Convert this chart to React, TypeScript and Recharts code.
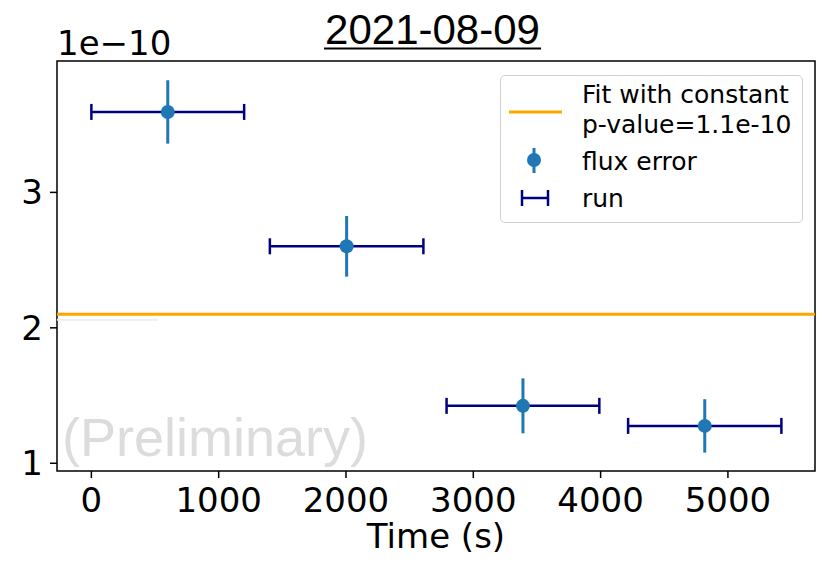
import { ScatterChart, Scatter, XAxis, YAxis, ErrorBar, ReferenceLine, ReferenceArea, Label } from "recharts";

// run mid-times (s) and half run length
const times = [600, 2005, 3390, 4818];
const runHalf = [600, 603, 600, 602];
// flux in units of 1e-10
const flux = [3.594, 2.602, 1.424, 1.276];
const fluxErr = [0.234, 0.224, 0.203, 0.197];
const fitConstant = 2.101;
const xTicks = [0, 1000, 2000, 3000, 4000, 5000];
const yTicks = [1, 2, 3];
const xDomain = [-270, 5684];
const yDomain = [0.943, 3.97];

const data = times.map((t, i) => ({ t, flux: flux[i], xerr: runHalf[i], yerr: fluxErr[i] }));

const BLUE = "#1f77b4";
const NAVY = "#000080";
const ORANGE = "#ffa500";
const SANS = "'DejaVu Sans', sans-serif";

const Dot = (props: any) => <circle cx={props.cx} cy={props.cy} r={7} fill={BLUE} />;

function LegendBox() {
  return (
    <div
      style={{
        position: "absolute",
        left: 500,
        top: 75,
        width: 303,
        height: 148,
        boxSizing: "border-box",
        border: "1.5px solid #d0d0d0",
        borderRadius: 5,
        background: "rgba(255,255,255,0.8)",
      }}
    >
      <svg width={303} height={148} style={{ position: "absolute", left: -1.5, top: -1.5 }}>
        <line x1={9} x2={62} y1={37} y2={37} stroke={ORANGE} strokeWidth={3} />
        <text x={82} y={28} fontSize={25} fontFamily={SANS} fill="#000">Fit with constant</text>
        <text x={82} y={58} fontSize={25} fontFamily={SANS} fill="#000">p-value=1.1e-10</text>
        <line x1={34} x2={34} y1={73} y2={98} stroke={BLUE} strokeWidth={3} />
        <circle cx={34} cy={85} r={7} fill={BLUE} />
        <text x={82} y={95} fontSize={25} fontFamily={SANS} fill="#000">flux error</text>
        <line x1={22} x2={48} y1={123} y2={123} stroke={NAVY} strokeWidth={2.5} />
        <line x1={22} x2={22} y1={115} y2={131} stroke={NAVY} strokeWidth={2.5} />
        <line x1={48} x2={48} y1={115} y2={131} stroke={NAVY} strokeWidth={2.5} />
        <text x={82} y={132} fontSize={25} fontFamily={SANS} fill="#000">run</text>
      </svg>
    </div>
  );
}

export default function App() {
  return (
    <div style={{ position: "absolute", left: 0, top: 0, width: 821, height: 561, background: "#fff" }}>
      <ScatterChart width={821} height={561} margin={{ top: 61, right: 6, bottom: 0, left: 7 }}>
        <XAxis
          type="number"
          dataKey="t"
          domain={xDomain}
          ticks={xTicks}
          allowDataOverflow
          axisLine={false}
          tickLine={{ stroke: "#000", strokeWidth: 1.5 }}
          tickSize={7}
          tickMargin={10}
          height={90}
          tick={{ fill: "#000", fontSize: 34, fontFamily: SANS }}
        >
          <Label value="Time (s)" position="insideBottom" offset={13} style={{ fill: "#000", fontSize: 34, fontFamily: SANS }} />
        </XAxis>
        <YAxis
          type="number"
          dataKey="flux"
          domain={yDomain}
          ticks={yTicks}
          allowDataOverflow
          axisLine={false}
          tickLine={{ stroke: "#000", strokeWidth: 1.5 }}
          tickSize={7}
          tickMargin={7}
          width={50}
          tick={{ fill: "#000", fontSize: 34, fontFamily: SANS }}
        />
        <ReferenceLine
          segment={[{ x: -270, y: 2.059 }, { x: 521, y: 2.059 }]}
          stroke="#eeeeee"
          strokeWidth={2}
        />
        <ReferenceLine y={fitConstant} stroke={ORANGE} strokeWidth={3} />
        <Scatter data={data} shape={Dot} isAnimationActive={false}>
          <ErrorBar dataKey="xerr" direction="x" width={8} stroke={NAVY} strokeWidth={2.5} />
          <ErrorBar dataKey="yerr" direction="y" width={0} stroke={BLUE} strokeWidth={3} />
        </Scatter>
        <ReferenceArea
          x1={xDomain[0]}
          x2={xDomain[1]}
          y1={yDomain[0]}
          y2={yDomain[1]}
          fill="none"
          stroke="#000"
          strokeWidth={1.5}
        />
      </ScatterChart>
      <svg width={821} height={561} style={{ position: "absolute", left: 0, top: 0, pointerEvents: "none" }}>
        <text x={432.5} y={43.5} textAnchor="middle" fontSize={42} fontFamily="'Liberation Sans', Arial, sans-serif" fill="#000">
          2021-08-09
        </text>
        <line x1={324} x2={541} y1={48.5} y2={48.5} stroke="#000" strokeWidth={2} />
        <text x={57} y={55} fontSize={34} fontFamily={SANS} fill="#000">1e−10</text>
        <text x={62} y={456} fontSize={54} fontFamily="'Liberation Sans', Arial, sans-serif" fill="#dcdcdc">
          (Preliminary)
        </text>
      </svg>
      <LegendBox />
    </div>
  );
}
